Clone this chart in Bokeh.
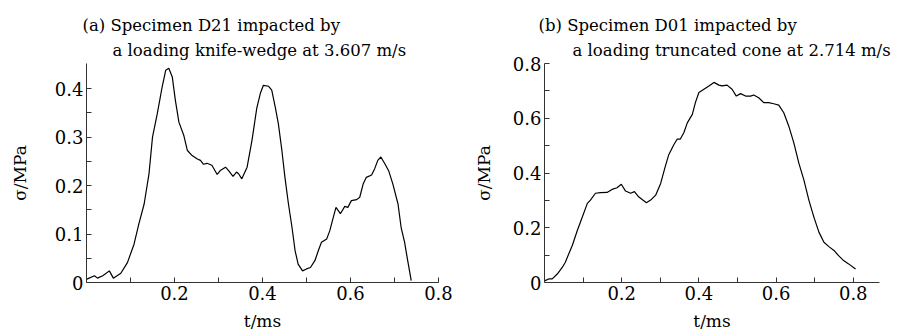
from bokeh.plotting import figure
from bokeh.layouts import row
from bokeh.models import FixedTicker, Title, Range1d
from bokeh.embed import file_html
from bokeh.resources import INLINE

# ---- data ----
t_a = [0.001, 0.018, 0.025, 0.037, 0.052, 0.061, 0.078, 0.093, 0.108, 0.119, 0.131, 0.142,
       0.150, 0.161, 0.172, 0.180, 0.187, 0.195, 0.202, 0.210, 0.221, 0.229, 0.240, 0.252,
       0.259, 0.266, 0.274, 0.285, 0.297, 0.304, 0.316, 0.323, 0.333, 0.341, 0.346, 0.353,
       0.365, 0.376, 0.387, 0.395, 0.402, 0.414, 0.421, 0.429, 0.436, 0.444, 0.451, 0.459,
       0.467, 0.474, 0.481, 0.491, 0.500, 0.509, 0.519, 0.527, 0.534, 0.546, 0.553, 0.561,
       0.567, 0.577, 0.587, 0.594, 0.602, 0.614, 0.621, 0.629, 0.636, 0.648, 0.655, 0.662,
       0.669, 0.678, 0.687, 0.696, 0.708, 0.715, 0.723, 0.730, 0.738]
s_a = [0.007, 0.014, 0.009, 0.014, 0.024, 0.009, 0.019, 0.041, 0.079, 0.121, 0.162, 0.224,
       0.300, 0.349, 0.404, 0.438, 0.442, 0.424, 0.376, 0.331, 0.304, 0.273, 0.262, 0.255,
       0.252, 0.244, 0.246, 0.242, 0.223, 0.231, 0.238, 0.231, 0.219, 0.228, 0.224, 0.214,
       0.238, 0.293, 0.360, 0.390, 0.407, 0.405, 0.397, 0.362, 0.328, 0.273, 0.217, 0.162,
       0.114, 0.066, 0.038, 0.024, 0.028, 0.031, 0.045, 0.066, 0.083, 0.090, 0.107, 0.135,
       0.155, 0.142, 0.157, 0.155, 0.169, 0.171, 0.176, 0.204, 0.217, 0.222, 0.235, 0.252,
       0.259, 0.245, 0.230, 0.204, 0.162, 0.114, 0.083, 0.045, 0.004]

t_b = [0.000, 0.011, 0.020, 0.033, 0.046, 0.054, 0.063, 0.072, 0.085, 0.098, 0.111, 0.119,
       0.132, 0.145, 0.162, 0.175, 0.188, 0.199, 0.210, 0.223, 0.233, 0.244, 0.253, 0.264,
       0.275, 0.288, 0.301, 0.313, 0.322, 0.335, 0.344, 0.352, 0.361, 0.370, 0.383, 0.391,
       0.400, 0.413, 0.426, 0.439, 0.452, 0.460, 0.473, 0.486, 0.497, 0.508, 0.521, 0.534,
       0.542, 0.555, 0.568, 0.581, 0.594, 0.607, 0.620, 0.633, 0.646, 0.659, 0.672, 0.685,
       0.698, 0.711, 0.724, 0.737, 0.750, 0.762, 0.775, 0.788, 0.806]
s_b = [0.006, 0.013, 0.013, 0.031, 0.055, 0.074, 0.105, 0.135, 0.190, 0.239, 0.289, 0.301,
       0.326, 0.328, 0.329, 0.340, 0.346, 0.359, 0.334, 0.326, 0.332, 0.313, 0.303, 0.291,
       0.301, 0.319, 0.362, 0.424, 0.467, 0.503, 0.524, 0.524, 0.547, 0.583, 0.614, 0.657,
       0.694, 0.706, 0.718, 0.731, 0.721, 0.718, 0.721, 0.706, 0.681, 0.690, 0.681, 0.681,
       0.685, 0.675, 0.657, 0.657, 0.653, 0.648, 0.620, 0.571, 0.510, 0.436, 0.375, 0.301,
       0.239, 0.184, 0.147, 0.131, 0.117, 0.098, 0.080, 0.068, 0.049]

x_major = [0.2, 0.4, 0.6, 0.8]
x_minor = [0.1, 0.3, 0.5, 0.7]
ya_major = [0, 0.1, 0.2, 0.3, 0.4]
ya_minor = [0.05, 0.15, 0.25, 0.35]
yb_major = [0, 0.2, 0.4, 0.6, 0.8]
yb_minor = [0.1, 0.3, 0.5, 0.7]

title_a = ["(a) Specimen D21 impacted by", "a loading knife-wedge at 3.607 m/s"]
title_b = ["(b) Specimen D01 impacted by", "a loading truncated cone at 2.714 m/s"]
x_label = "t/ms"
y_label = "\u03c3/MPa"

FONT = "DejaVu Serif"
FS_TICK = "18px"
FS_AXIS = "17px"
FS_TITLE = "16.5px"


def make_panel(t, s, xr, yr, ymaj, ymin, titles, mb_left, mb_right, ylab_standoff, title_x):
    p = figure(frame_width=xr[1], frame_height=219,
               x_range=Range1d(0, xr[0]), y_range=Range1d(0, yr),
               output_backend="svg", toolbar_location=None,
               min_border_left=mb_left, min_border_right=mb_right,
               min_border_top=63, min_border_bottom=54)
    p.outline_line_color = None
    p.grid.visible = False
    p.background_fill_color = "white"
    p.border_fill_color = "white"
    p.line(t, s, line_color="black", line_width=1.2)

    for ax in (p.xaxis[0], p.yaxis[0]):
        ax.axis_line_color = "#333333"
        ax.axis_line_width = 1
        ax.major_tick_in = 5
        ax.major_tick_out = 0
        ax.minor_tick_in = 5
        ax.minor_tick_out = 0
        ax.major_tick_line_color = "#333333"
        ax.minor_tick_line_color = "#333333"
        ax.major_label_text_font = FONT
        ax.major_label_text_font_size = FS_TICK
        ax.major_label_text_color = "black"
        ax.axis_label_text_font = FONT
        ax.axis_label_text_font_size = FS_AXIS
        ax.axis_label_text_font_style = "normal"
        ax.axis_label_text_color = "black"

    xa = p.xaxis[0]
    xa.ticker = FixedTicker(ticks=x_major, minor_ticks=x_minor)
    xa.major_label_overrides = {v: f"{v:.1f}" for v in x_major}
    xa.major_label_standoff = 3
    xa.axis_label = x_label
    xa.axis_label_standoff = 8

    ya = p.yaxis[0]
    ya.ticker = FixedTicker(ticks=ymaj, minor_ticks=ymin)
    ya.major_label_overrides = {v: ("0" if v == 0 else f"{v:.1f}") for v in ymaj}
    ya.major_label_standoff = 3
    ya.axis_label = y_label
    ya.axis_label_standoff = ylab_standoff

    # second line first (closest to the frame), then first line above it
    p.add_layout(Title(text=titles[1], align="left", offset=title_x[1], standoff=7,
                       text_font=FONT, text_font_size=FS_TITLE, text_font_style="normal",
                       text_color="black"), "above")
    p.add_layout(Title(text=titles[0], align="left", offset=title_x[0], standoff=2,
                       text_font=FONT, text_font_size=FS_TITLE, text_font_style="normal",
                       text_color="black"), "above")
    return p


p1 = make_panel(t_a, s_a, (0.8, 352), 0.452, ya_major, ya_minor, title_a,
                86, 20, 22, (-4, 26))
p2 = make_panel(t_b, s_b, (0.868, 335), 0.8, yb_major, yb_minor, title_b,
                86, 26, 16, (-6, 28))

layout = row(p1, p2)
open("out.html", "w").write(file_html(layout, INLINE))
